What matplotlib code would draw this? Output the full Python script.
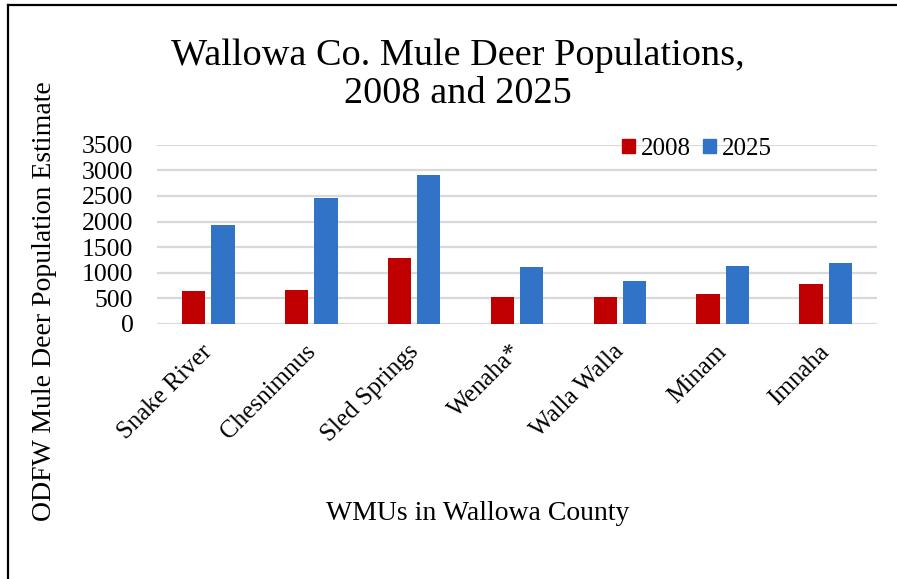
import matplotlib
matplotlib.use("Agg")
import matplotlib.pyplot as plt
import matplotlib.transforms as mtransforms
import numpy as np
from matplotlib.lines import Line2D
from matplotlib.patches import Patch

categories = ["Snake River", "Chesnimnus", "Sled Springs", "Wenaha*", "Walla Walla", "Minam", "Imnaha"]
series_names = ["2008", "2025"]
values_2008 = [640, 660, 1290, 530, 530, 590, 775]
values_2025 = [1930, 2460, 2910, 1110, 840, 1125, 1200]
yticks = [0, 500, 1000, 1500, 2000, 2500, 3000, 3500]

RED = "#C00000"
BLUE = "#3173C6"
FONT = "Liberation Serif"
plt.rcParams["font.family"] = [FONT, "DejaVu Serif"]

W, H = 897, 579
fig = plt.figure(figsize=(W / 100, H / 100), dpi=100)
ax = fig.add_axes([157 / W, 1 - 324 / H, 720 / W, (324 - 144.7) / H])

x = np.arange(len(categories))
bw = 0.227
off = 0.142
ax.bar(x - off, values_2008, bw, color=RED, zorder=3)
ax.bar(x + off, values_2025, bw, color=BLUE, zorder=3)

ax.set_xlim(-0.5, len(categories) - 0.5)
ax.set_ylim(0, 3500)
ax.set_yticks(yticks)
ax.set_yticklabels([str(v) for v in yticks], fontsize=18.5)
ax.set_xticks(x)
ax.tick_params(axis="both", length=0)
ax.tick_params(axis="y", pad=17)
ax.tick_params(axis="x", pad=12)
ax.set_xticklabels(categories, fontsize=18, rotation=45, ha="right", va="top",
                   rotation_mode="anchor")
shift = mtransforms.ScaledTranslation(-7 / 100, 0, fig.dpi_scale_trans)
for tick in ax.xaxis.get_major_ticks():
    tick.label1.set_transform(tick.label1.get_transform() + shift)
ax.yaxis.grid(True, color="#d9d9d9", linewidth=1.6, zorder=0)
ax.set_axisbelow(True)
for s in ax.spines.values():
    s.set_visible(False)

handles = [Patch(color=RED, label=series_names[0]), Patch(color=BLUE, label=series_names[1])]
fig.legend(handles=handles, loc="center", bbox_to_anchor=(697 / W, 1 - 149 / H),
           ncol=2, frameon=False, fontsize=18, handlelength=0.5, handleheight=0.5,
           handletextpad=0.25, columnspacing=0.5, borderpad=0)

fig.text(458 / W, 1 - 75 / H, "Wallowa Co. Mule Deer Populations,\n2008 and 2025",
         ha="center", va="center", fontsize=27.5, linespacing=1.13)
fig.text(45 / W, 1 - 301 / H, "ODFW Mule Deer Population Estimate", rotation=90,
         ha="center", va="center", fontsize=20)
fig.text(478 / W, 1 - 513 / H, "WMUs in Wallowa County", ha="center", va="center", fontsize=20)

fig.add_artist(Line2D([8 / W, 8 / W], [0, 1 - 5 / H], color="black", lw=1.6,
                      transform=fig.transFigure))
fig.add_artist(Line2D([8 / W, 1], [1 - 5 / H, 1 - 5 / H], color="black", lw=1.6,
                      transform=fig.transFigure))

fig.savefig("out.png", dpi=100)
